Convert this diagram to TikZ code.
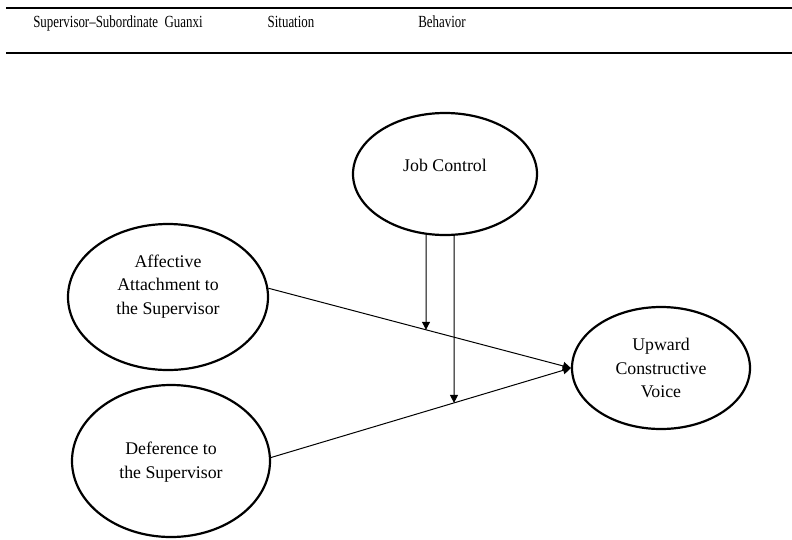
\documentclass[tikz,border=0pt]{standalone}
\usepackage{fontspec}
\setmainfont{Liberation Serif}
\newfontfamily\headfont{Liberation Serif}[FakeStretch=0.76,Ligatures=TeX]
\usetikzlibrary{arrows.meta}
\usetikzlibrary{calc}
\usetikzlibrary{intersections}
\usetikzlibrary{positioning}
\usetikzlibrary{shapes}

\tikzset{
  construct/.style={draw,ellipse,line width=2.2pt,align=center,inner sep=0pt},
  link/.style={-{Triangle[length=8pt,width=8pt]},line width=1pt},
  rule/.style={line width=1.4pt},
  head/.style={anchor=base,font=\headfont\fontsize{17}{20}\selectfont}
}

\begin{document}
\begin{tikzpicture}[x=1pt,y=-1pt,font=\fontsize{17.8}{23.5}\selectfont]
\useasboundingbox (0,0) rectangle (792,539);
% head of the table
\draw[rule] (6,8) -- (792,8);
\draw[rule] (6,53) -- (792,53);
\node[head] (hguanxi) at (118,27) {Supervisor–Subordinate\ \ Guanxi};
\node[head] (hsit) at (291,27) {Situation};
\node[head] (hbeh) at (442,27) {Behavior};
% the four constructs
\node[construct,minimum width=184pt,minimum height=122pt,text depth=18pt] (jc) at (445,174) {Job Control};
\node[construct,minimum width=200pt,minimum height=146pt,text depth=25pt] (aff) at (168,297) {Affective\\Attachment to\\the Supervisor};
\node[construct,minimum width=198pt,minimum height=152pt,text depth=2pt] (def) at (171,461) {Deference to\\the Supervisor};
\node[construct,minimum width=178pt,minimum height=122pt,text depth=0pt] (up) at (661,368) {Upward\\Constructive\\Voice};
% main effects
\draw[link,name path=affline] (aff.5) -- (up.west);
\draw[link,name path=defline] (def.2) -- (up.west);
% moderation: job control drops onto both lines
\path[name path=vleft] ($(jc.south)+(-19,-1)$) -- ++(0,250);
\path[name path=vright] ($(jc.south)+(9,-1)$) -- ++(0,250);
\draw[link,name intersections={of=affline and vleft}] ($(jc.south)+(-19,-1)$) -- (intersection-1);
\draw[link,name intersections={of=defline and vright}] ($(jc.south)+(9,-1)$) -- (intersection-1);
\end{tikzpicture}
\end{document}
